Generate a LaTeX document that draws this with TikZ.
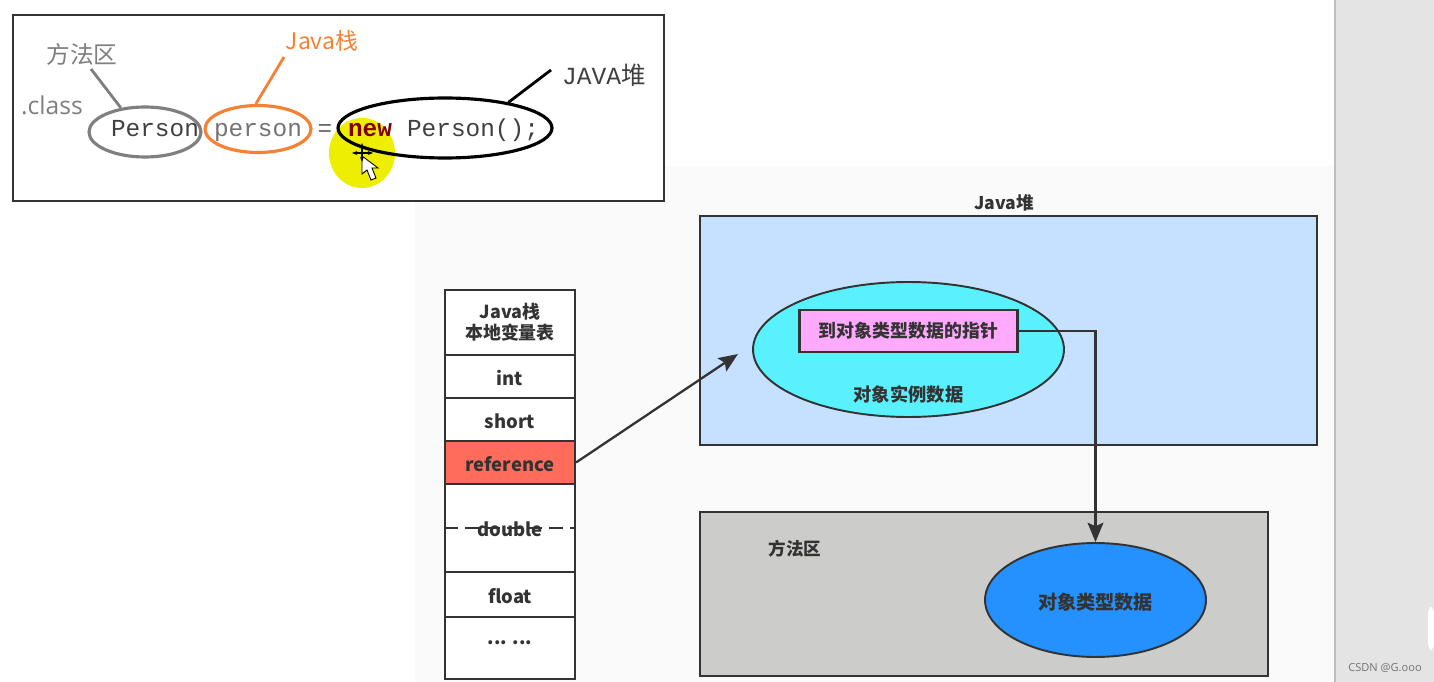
\documentclass[tikz,border=0pt]{standalone}
\usepackage{fontspec}
\setmainfont{Noto Sans CJK SC}
\newfontfamily\codefont{Liberation Mono}
\newfontfamily\labelfont{Open Sans}
\usetikzlibrary{shapes.geometric,arrows.meta}
\definecolor{inkgray}{HTML}{333333}
\definecolor{panelgray}{HTML}{F9FAF9}
\definecolor{stripgray}{HTML}{E3E4E3}
\definecolor{heapblue}{HTML}{C5E1FF}
\definecolor{methodgray}{HTML}{CCCDCB}
\definecolor{objcyan}{HTML}{5AF1FF}
\definecolor{ptrpink}{HTML}{FFAAFF}
\definecolor{refred}{HTML}{FF6C5C}
\definecolor{typeblue}{HTML}{2491FF}
\definecolor{leadgray}{HTML}{7F7F7F}
\definecolor{leadorange}{HTML}{F58233}
\definecolor{markyellow}{HTML}{EEEE00}
\tikzset{
    cellbox/.style={draw=inkgray, line width=1.2pt, fill=white, text=inkgray, font=\bfseries\fontsize{10.5}{13}\selectfont, minimum width=2.6cm, inner sep=0pt, align=center},
    areabox/.style={draw=inkgray, line width=1.2pt, inner sep=0pt},
    blob/.style={ellipse, draw=inkgray, line width=1.1pt, inner sep=0pt, text=inkgray},
    boldtext/.style={text=inkgray, font=\bfseries\fontsize{10}{12}\selectfont, inner sep=1pt},
    codering/.style={ellipse, line width=1.8pt, inner sep=0pt},
    codetext/.style={font=\codefont\fontsize{13.9}{16}\selectfont, inner sep=0pt, text height=10pt, text depth=1pt},
    leader/.style={line width=1.6pt},
    linkarrow/.style={draw=inkgray, line width=1.3pt, -{Stealth[length=11pt,width=9pt,inset=2pt]}}
}
\begin{document}
\begin{tikzpicture}[x=0.02cm,y=-0.02cm]
    \useasboundingbox (0,0) rectangle (1434,682);
    \fill[white] (0,0) rectangle (1434,682);
    \fill[panelgray] (415,166) rectangle (1335,682);
    \fill[stripgray] (1335,0) rectangle (1434,682);
    \draw[line width=0.8pt, black!25] (1335,0) -- (1335,682);
    \fill[white, rounded corners=3pt] (1434,607) -| (1428,650) -- (1434,650) -- cycle;
    \node[text=black!55, font=\labelfont\fontsize{6.3}{8}\selectfont, inner sep=0pt] (credit) at (1385,668) {CSDN @G.ooo};

    % code snippet on top
    \node[draw=inkgray, line width=0.9pt, fill=white, minimum width=13.02cm, minimum height=3.72cm, inner sep=0pt] (codeframe) at (338.5,108) {};
    \fill[markyellow] (362,153) ellipse [x radius=33, y radius=35];

    \node[codering, draw=leadgray, minimum width=2.24cm, minimum height=1cm] (ringclass) at (145,132) {};
    \node[codering, draw=leadorange, minimum width=2.12cm, minimum height=0.94cm] (ringvar) at (258,129) {};
    \node[codering, draw=black, minimum width=4.28cm, minimum height=1.2cm] (ringnew) at (445,128) {};

    \node[codetext, text=black!75] (codeclass) at (155,129) {Person};
    \node[codetext, text=black!55] (codevar) at (258,129) {person};
    \node[codetext, text=black!60] (codeeq) at (325,129) {=};
    \node[codetext, text=red!50!black, font=\codefont\bfseries\fontsize{13.9}{16}\selectfont] (codenew) at (370,129) {new};
    \node[codetext, text=black!75] (codeinit) at (473,129) {Person();};

    \node[text=leadgray, font=\fontsize{13.5}{16}\selectfont, inner sep=0pt] (lblmethod) at (82,54) {方法区};
    \node[text=leadgray, font=\labelfont\fontsize{14}{16}\selectfont, inner sep=0pt] (lblclass) at (52,105) {.class};
    \node[text=leadorange, font=\fontsize{13}{16}\selectfont, inner sep=0pt] (lblstack) at (322,41) {Java栈};
    \node[text=black!75, font=\codefont\fontsize{14}{16}\selectfont, inner sep=0pt] (lblheap) at (604,75) {JAVA{\rmfamily 堆}};

    \coordinate (leadmethod) at (91,69);
    \coordinate (leadstack) at (284,57);
    \coordinate (leadheap) at (551,70);
    \draw[leader, leadgray] (leadmethod) -- (ringclass.135);
    \draw[leader, leadorange] (leadstack) -- (ringvar.95);
    \draw[leader, black] (leadheap) -- (ringnew.22.6);

    % mouse pointer
    \fill[white, draw=black, line width=0.5pt] (362,156) -- (362,174) -- (367,170) -- (371,180) -- (376,178) -- (372,168) -- (378,168) -- cycle;
    \draw[black, line width=0.9pt, {Stealth[length=3pt]}-{Stealth[length=3pt]}] (352,153) -- (373,153);
    \draw[black, line width=0.9pt, {Stealth[length=3pt]}-{Stealth[length=3pt]}] (362,143) -- (362,162);

    % stack
    \node[cellbox, minimum height=1.3cm, font=\bfseries\fontsize{10.2}{12}\selectfont] (cellhead) at (510,322.5) {Java栈\\本地变量表};
    \foreach \cname/\ya/\yb/\ctext in {cellint/355/398/int, cellshort/398/441/short, celldouble/484/572/double, cellfloat/572/617/float, cellrest/617/679/{}} {
        \pgfmathsetmacro{\ymid}{(\ya+\yb)/2}
        \pgfmathsetmacro{\yhgt}{(\yb-\ya)*0.02}
        \node[cellbox, text height=10pt, text depth=0pt, minimum height=\yhgt cm] (\cname) at (510,\ymid) {\ctext};
    }
    \node[cellbox, fill=refred, text height=10pt, text depth=0pt, minimum height=0.86cm] (cellref) at (510,462.5) {reference};
    \draw[inkgray, line width=1.1pt, dash pattern=on 8pt off 4pt] (celldouble.west) -- (celldouble.east);
    \node[boldtext, font=\bfseries\fontsize{10.5}{13}\selectfont] (restdots) at (510,643) {... ...};

    % heap
    \node[boldtext] (heaptitle) at (1004,203) {Java堆};
    \node[areabox, fill=heapblue, minimum width=12.34cm, minimum height=4.58cm] (heaparea) at (1008.5,330.5) {};
    \node[blob, fill=objcyan, minimum width=6.22cm, minimum height=2.7cm] (objblob) at (908.5,349.5) {};
    \node[areabox, fill=ptrpink, minimum width=4.36cm, minimum height=0.84cm, text=inkgray, font=\bfseries\fontsize{10.2}{12}\selectfont] (ptrbox) at (908.5,331) {到对象类型数据的指针};
    \node[boldtext, font=\bfseries\fontsize{10.4}{12}\selectfont] (objtext) at (908.5,394) {对象实例数据};

    % method area
    \node[areabox, fill=methodgray, minimum width=11.36cm, minimum height=3.28cm] (methodarea) at (984,594) {};
    \node[boldtext] (methodtitle) at (795,549) {方法区};
    \node[blob, fill=typeblue, minimum width=4.42cm, minimum height=2.28cm] (typeblob) at (1095.5,600) {};
    \node[boldtext, font=\bfseries\fontsize{10.9}{13}\selectfont] (typetext) at (1095.5,602) {对象类型数据};

    \coordinate (heapentry) at (738,354);
    \draw[linkarrow] (cellref.east) -- (heapentry);
    \draw[linkarrow] (ptrbox.east) -| (typeblob.north);
\end{tikzpicture}
\end{document}
